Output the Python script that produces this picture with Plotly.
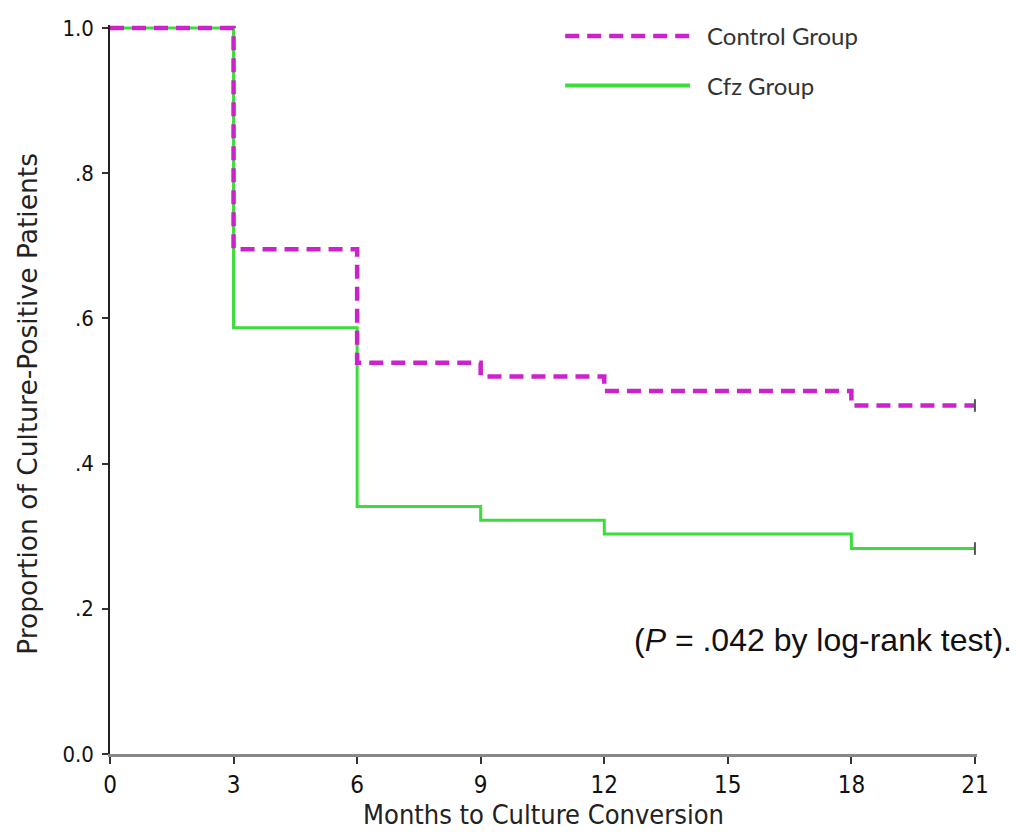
import plotly.graph_objects as go

months = [0, 3, 6, 9, 12, 18, 21]
control = [1.0, 0.695, 0.539, 0.520, 0.500, 0.480, 0.480]
cfz = [1.0, 0.587, 0.341, 0.322, 0.303, 0.283, 0.283]
x_ticks = [0, 3, 6, 9, 12, 15, 18, 21]
y_ticks = [0.0, 0.2, 0.4, 0.6, 0.8, 1.0]
y_tick_text = ["0.0", ".2", ".4", ".6", ".8", "1.0"]

MAG = "#CC22CC"
GRN = "#3ADD3A"
ytickfont = dict(family="DejaVu Sans Condensed, DejaVu Sans, sans-serif", size=22, color="#111")
xtickfont = dict(family="DejaVu Sans Condensed, DejaVu Sans, sans-serif", size=24, color="#111")

fig = go.Figure()
fig.add_trace(go.Scatter(x=months, y=cfz, mode="lines", line=dict(shape="hv", color=GRN, width=3),
                         name="Cfz Group", showlegend=False))
fig.add_trace(go.Scatter(x=months, y=control, mode="lines", line=dict(shape="hv", color=MAG, width=4.5, dash="14px,8px"),
                         name="Control Group", showlegend=False))
# censor marks at the end
fig.add_trace(go.Scatter(x=[months[-1], months[-1]], y=[control[-1], cfz[-1]], mode="markers",
                         marker=dict(symbol="line-ns", size=9, line=dict(width=2, color="#555")),
                         showlegend=False, hoverinfo="skip", cliponaxis=False))

# legend samples
fig.add_shape(type="line", xref="paper", yref="paper", x0=0.525, x1=0.669, y0=0.985, y1=0.985,
              line=dict(color=MAG, width=4.5, dash="14px,8px"))
fig.add_shape(type="line", xref="paper", yref="paper", x0=0.525, x1=0.669, y0=0.917, y1=0.917,
              line=dict(color=GRN, width=4))
fig.add_annotation(xref="paper", yref="paper", x=0.686, y=0.985, text="Control Group", showarrow=False,
                   xanchor="left", yanchor="middle", font=dict(family="Lato, Open Sans, sans-serif", size=24, color="#333"))
fig.add_annotation(xref="paper", yref="paper", x=0.686, y=0.917, text="Cfz Group", showarrow=False,
                   xanchor="left", yanchor="middle", font=dict(family="Lato, Open Sans, sans-serif", size=24, color="#333"))
fig.add_annotation(xref="paper", yref="paper", x=1.043, y=0.157, text="(<i>P</i> = .042 by log-rank test).",
                   showarrow=False, xanchor="right", yanchor="middle",
                   font=dict(family="Liberation Sans Narrow, Arial Narrow, Liberation Sans, sans-serif", size=32, color="#111"))
# y-axis title
fig.add_annotation(xref="paper", yref="paper", x=-0.096, y=0.480, text="Proportion of Culture-Positive Patients",
                   showarrow=False, textangle=-90, xanchor="center", yanchor="middle",
                   font=dict(family="DejaVu Sans, sans-serif", size=26.5, color="#222"))

fig.update_layout(
    width=1012, height=827,
    margin=dict(l=102, r=43, t=17, b=81),
    paper_bgcolor="white", plot_bgcolor="white",
    xaxis=dict(range=[0, 21.05], tickvals=x_ticks, ticks="outside", ticklen=7, tickwidth=2, tickcolor="#333",
               showgrid=False, zeroline=False, showline=True, linecolor="#888", linewidth=3,
               tickfont=xtickfont, automargin=False,
               title=dict(text="Months to Culture Conversion", standoff=7,
                          font=dict(family="DejaVu Sans Condensed, sans-serif", size=27, color="#222"))),
    yaxis=dict(range=[0, 1.004], tickvals=y_ticks, ticktext=y_tick_text, ticks="outside", ticklen=6,
               tickwidth=2, tickcolor="#333", showgrid=False, zeroline=False, showline=True,
               linecolor="#222", linewidth=1.5, tickfont=ytickfont, ticklabelstandoff=4, automargin=False),
)
fig.write_html("out.html")
